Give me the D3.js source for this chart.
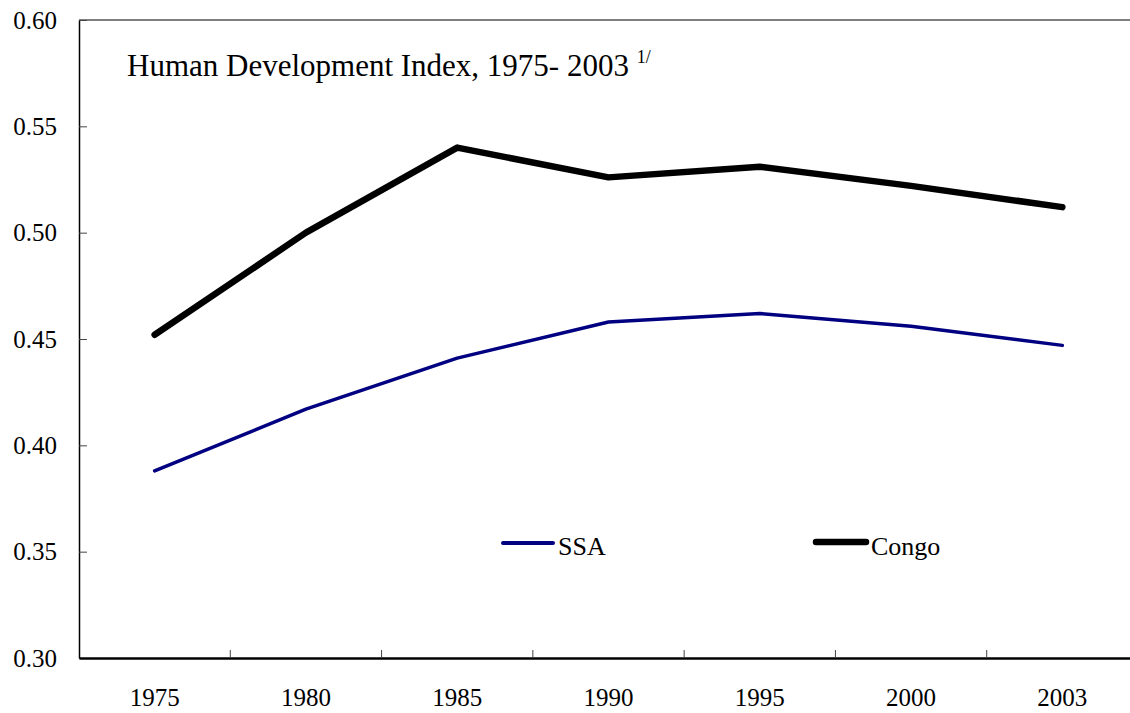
<!DOCTYPE html>
<html>
<head>
<meta charset="utf-8">
<script src="https://cdn.jsdelivr.net/npm/d3@7"></script>
<style>
  html, body { margin: 0; padding: 0; background: #fff; }
  svg { display: block; }
  text { font-family: "Liberation Serif", "Times New Roman", serif; fill: #000; }
</style>
</head>
<body>
<div id="chart"></div>
<script>
const years = ["1975", "1980", "1985", "1990", "1995", "2000", "2003"];
const ssaValues = [0.388, 0.417, 0.441, 0.458, 0.462, 0.456, 0.447];
const congoValues = [0.452, 0.500, 0.540, 0.526, 0.531, 0.522, 0.512];
const yTicks = [0.30, 0.35, 0.40, 0.45, 0.50, 0.55, 0.60];
const seriesNames = ["SSA", "Congo"];

(function () {
const W = 1130, H = 713;
const mLeft = 79, mTop = 20, mRight = 1138, mBottom = 658;
const serif = '"Liberation Serif", "Times New Roman", serif';

const svg = d3.select("#chart").append("svg")
  .attr("width", W).attr("height", H);

const x = d3.scaleBand().domain(years).range([mLeft, mRight]).padding(0);
const y = d3.scaleLinear().domain([0.30, 0.60]).range([mBottom, mTop]);

// top border
svg.append("line")
  .attr("x1", mLeft).attr("x2", mRight)
  .attr("y1", y(0.60)).attr("y2", y(0.60))
  .attr("stroke", "#555").attr("stroke-width", 1.5);

// y axis
const yAxis = d3.axisLeft(y)
  .tickValues(yTicks)
  .tickFormat(d3.format(".2f"))
  .tickSizeInner(-8)
  .tickSizeOuter(0)
  .tickPadding(22);
const gy = svg.append("g").attr("transform", `translate(${mLeft},0)`).call(yAxis);
gy.attr("font-family", serif).attr("font-size", 25);
gy.select(".domain").attr("stroke", "#000").attr("stroke-width", 1.5);
gy.selectAll(".tick line").attr("stroke", "#444").attr("stroke-width", 1);
gy.selectAll(".tick text").attr("fill", "#000");

// x axis
const xAxis = d3.axisBottom(x).tickSize(0).tickPadding(30);
const gx = svg.append("g").attr("transform", `translate(0,${mBottom})`).call(xAxis);
gx.attr("font-family", serif).attr("font-size", 25);
gx.select(".domain").attr("stroke", "#000").attr("stroke-width", 2.5);
gx.selectAll(".tick text").attr("fill", "#000");

// category boundary ticks
svg.append("g").selectAll("line")
  .data(years.slice(1))
  .join("line")
  .attr("x1", d => x(d)).attr("x2", d => x(d))
  .attr("y1", mBottom - 8).attr("y2", mBottom)
  .attr("stroke", "#444").attr("stroke-width", 1);

const cx = d => x(d) + x.bandwidth() / 2;
const line = d3.line()
  .x((d, i) => cx(years[i]))
  .y(d => y(d));

svg.append("path")
  .datum(ssaValues)
  .attr("d", line)
  .attr("fill", "none")
  .attr("stroke", "#000080")
  .attr("stroke-width", 3.5)
  .attr("stroke-linecap", "round")
  .attr("stroke-linejoin", "round");

svg.append("path")
  .datum(congoValues)
  .attr("d", line)
  .attr("fill", "none")
  .attr("stroke", "#000")
  .attr("stroke-width", 6.5)
  .attr("stroke-linecap", "round")
  .attr("stroke-linejoin", "round");

// title
const title = svg.append("text")
  .attr("x", 127).attr("y", 76)
  .attr("font-size", 31);
title.append("tspan").text("Human Development Index, 1975- 2003 ");
title.append("tspan").attr("font-size", 18).attr("dy", -13).text("1/");

// legend
const legend = [
  { name: seriesNames[0], color: "#000080", width: 4, x1: 503, x2: 553, y: 543 },
  { name: seriesNames[1], color: "#000", width: 6.5, x1: 816, x2: 866, y: 542 }
];
const lg = svg.append("g").selectAll("g").data(legend).join("g");
lg.append("line")
  .attr("x1", d => d.x1).attr("x2", d => d.x2)
  .attr("y1", d => d.y).attr("y2", d => d.y)
  .attr("stroke", d => d.color).attr("stroke-width", d => d.width)
  .attr("stroke-linecap", "round");
lg.append("text")
  .attr("x", d => d.x2 + 5).attr("y", 555)
  .attr("font-size", 26)
  .text(d => d.name);
})();
</script>
</body>
</html>
